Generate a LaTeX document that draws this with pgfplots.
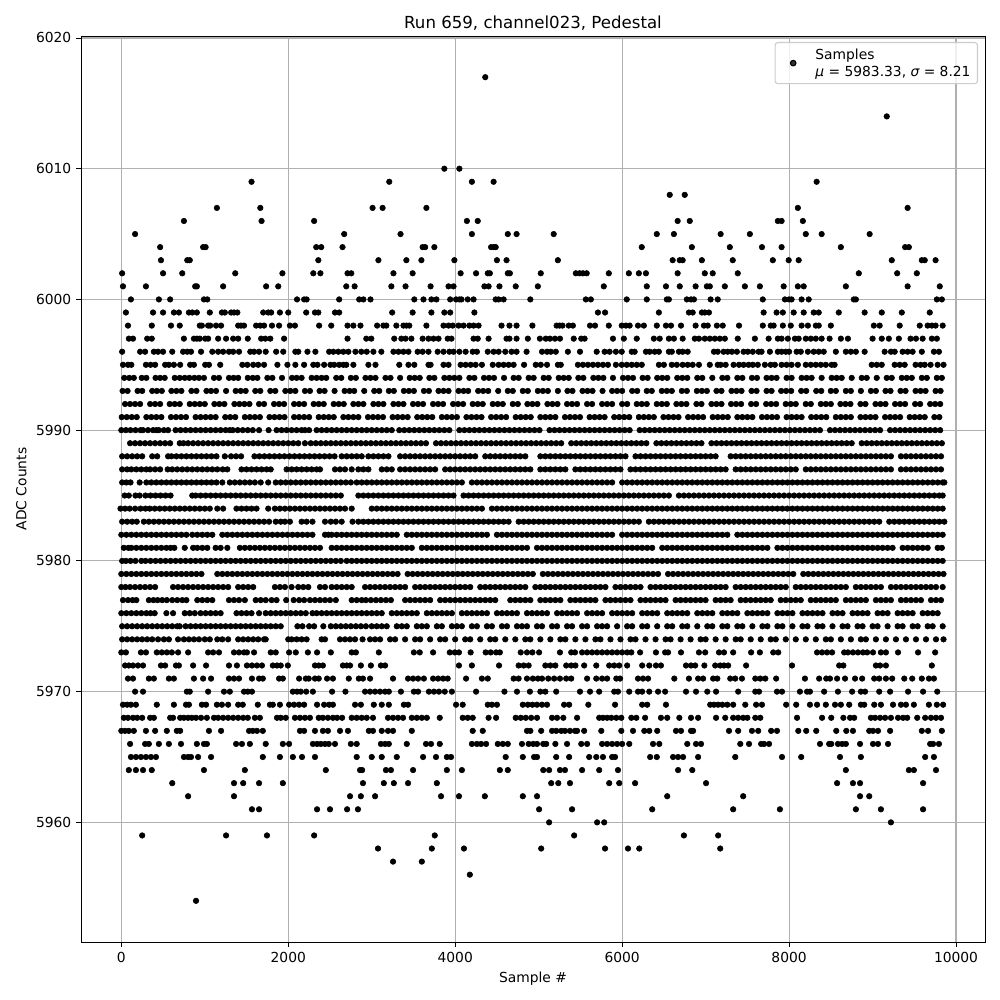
\documentclass[border=0pt]{standalone}
\usepackage{fontspec}
\setmainfont{DejaVu Sans}
\usepackage{pgfplots}
\pgfplotsset{compat=1.18}
% one plot per ADC level: level, then the sample numbers at that level
\pgfplotsset{samp/.style={only marks,mark=*,mark size=2bp,mark options={fill=black,draw=none},forget plot}}
\newcommand\lv[2]{\gdef\lvpts{}\foreach \x in {#2}{\xdef\lvpts{\lvpts(\x,#1)}}\edef\lvcmd{\noexpand\addplot[samp] coordinates {\lvpts};}\lvcmd}
\begin{document}
\begin{tikzpicture}
\useasboundingbox (0,0) rectangle (720bp,720bp);
\begin{axis}[
  scale only axis,
  width=650.88bp, height=652.32bp,
  at={(58.32bp,41.76bp)}, anchor=south west,
  xmin=-483, xmax=10347, ymin=5950.85, ymax=6020.15,
  xtick={0,2000,...,10000},
  ytick={5960,5970,...,6020},
  scaled ticks=false,
  tick align=outside,
  major tick length=3.5bp,
  tick style={black,line width=0.6bp},
  axis line style={line width=0.6bp},
  grid=major,
  grid style={color=black!31,line width=0.8bp},
  xticklabel pos=bottom, yticklabel pos=left,
  xtick pos=bottom, ytick pos=left,
  /pgf/number format/.cd, 1000 sep={}, assume math mode=true,
  /pgfplots/.cd,
  tick label style={font=\fontsize{10}{12}\selectfont},
  title={Run 659, channel023, Pedestal},
  title style={font=\fontsize{12}{14}\selectfont,yshift=-5.3bp},
  xlabel={Sample \#},
  ylabel={ADC Counts},
  label style={font=\fontsize{10}{12}\selectfont},
  legend style={at={(0.9923,0.9934)},anchor=north east,fill=white,fill opacity=0.8,draw opacity=1,text opacity=1,draw=black!20,rounded corners=2pt,line width=0.8bp,font=\fontsize{10}{12}\selectfont},
  legend cell align=left,
  legend image code/.code={\path[draw=none] (0bp,-2bp) rectangle (22.5bp,2bp);\draw[#1] plot coordinates {(10bp,0bp)};},
]
\lv{6017}{4360}
\lv{6014}{9170}
\lv{6010}{3870,4050}
\lv{6009}{1560,3210,4200,4460,8330}
\lv{6008}{6570,6750}
\lv{6007}{1145,1665,3010,3130,3655,8105,9420}
\lv{6006}{750,1680,2310,4140,4270,6665,6810,7865,7910,8165}
\lv{6005}{165,2670,3345,4200,4630,4735,5180,6415,6620,7180,7530,8200,8390,8965}
\lv{6004}{465,980,1010,2335,2395,2650,3610,3640,3750,4430,4460,4485,6235,6835,7290,7675,7910,8620,9390,9435}
\lv{6003}{475,790,820,2360,3080,3415,3595,3990,4500,4615,5230,6605,6690,6725,6955,7325,7805,7995,8115,9230,9590,9625,9755}
\lv{6002}{10,500,730,1365,1930,2300,2385,2710,2755,3260,3490,4065,4250,4390,4415,4630,4655,5025,5445,5490,5530,5575,5840,6080,6200,6285,6665,6990,7085,7385,8835,9295,9530}
\lv{6001}{20,295,885,905,1220,1735,1880,2695,2795,3235,3405,3705,3920,3980,4350,4400,4530,4725,4990,5780,6295,6525,6690,6880,7015,7050,7230,7470,7650,7935,8105,8175,8680,9420,9805}
\lv{6000}{115,450,585,990,1030,2105,2190,2220,2610,2850,2900,2985,3510,3620,3715,3775,3940,4010,4050,4075,4150,4220,4485,4520,4580,4900,5565,5625,6055,6295,6535,6560,6775,6825,6860,7060,7145,7685,7950,8000,8030,8150,8235,8775,8800,9770,9830}
\lv{5999}{55,380,500,630,690,810,850,905,1060,1205,1240,1315,1350,1390,1700,1760,1795,1900,2000,2215,2320,2360,2560,2610,3245,3490,3715,3870,3940,4230,5710,5795,6440,6800,6845,6955,6990,7040,7695,7850,7925,8055,8175,8295,8355,8595,8905,9110,9350,9685}
\lv{5998}{80,365,595,700,940,965,1040,1065,1135,1195,1400,1435,1470,1615,1665,1710,1805,1890,2020,2080,2370,2515,2710,2780,2865,3065,3140,3175,3295,3380,3415,3450,3655,3860,3920,3970,4040,4100,4170,4220,4280,4555,4650,4735,4925,5215,5250,5285,5360,5410,5615,5675,5840,5995,6045,6090,6190,6260,6415,6525,6585,6705,6880,6980,7025,7135,7205,7400,7685,7780,7815,7925,8020,8150,8225,8320,8355,8500,9015,9085,9325,9565,9660,9710,9755,9840}
\lv{5997}{90,140,310,365,750,870,905,940,1005,1040,1160,1255,1340,1400,1515,1675,1725,1785,1950,2710,2935,2995,3270,3355,3405,3475,3610,3680,3740,3800,3910,3955,4220,4270,4400,4615,4650,4735,4870,5015,5085,5135,5195,5255,5420,5510,5550,5890,6020,6175,6380,6450,6560,6620,6725,6870,6920,6990,7050,7110,7170,7230,7385,7590,7755,7865,7910,7985,8070,8115,8200,8260,8320,8390,8485,8620,8705,9000,9110,9195,9315,9455,9520,9600,9710,9770}
\lv{5996}{10,225,285,390,440,500,610,740,790,835,955,1090,1160,1220,1290,1340,1410,1545,1590,1650,1730,1855,1940,2085,2120,2230,2325,2490,2540,2600,2660,2720,2805,2875,2940,3020,3115,3260,3320,3380,3440,3550,3610,3680,3790,3860,3930,3980,4050,4125,4210,4260,4390,4460,4520,4600,4675,4735,4855,5040,5100,5145,5205,5350,5495,5695,5790,5850,5925,5995,6115,6150,6285,6330,6390,6440,6560,6595,6680,6725,6785,7100,7145,7215,7265,7315,7375,7455,7505,7565,7635,7670,7770,7865,7910,7960,8000,8090,8140,8225,8295,8355,8415,8560,8680,8740,8800,8905,9145,9220,9265,9360,9420,9480,9590,9735,9795}
\lv{5995}{20,80,120,295,350,405,525,570,630,705,825,870,1005,1050,1185,1450,1510,1580,1640,1710,1870,1990,2085,2190,2300,2350,2430,2505,2550,2610,2660,2695,2780,2960,3045,3330,3440,3510,3680,3705,3860,3920,4065,4125,4185,4245,4320,4450,4520,4580,4640,4700,4825,4965,5025,5100,5230,5265,5470,5530,5590,5650,5710,5770,5830,5925,5995,6055,6115,6175,6235,6440,6500,6595,6655,6725,6785,6845,6920,7050,7145,7180,7240,7335,7400,7455,7515,7565,7625,7710,7780,7830,7910,7970,8030,8105,8200,8260,8320,8380,8440,8510,8545,8990,9050,9110,9265,9325,9385,9515,9575,9625,9695,9780,9850}
\lv{5994}{35,95,150,245,300,410,465,520,640,700,760,815,875,930,990,1110,1170,1290,1345,1400,1515,1575,1630,1750,1810,1925,2045,2100,2160,2280,2340,2400,2455,2575,2635,2750,2810,2925,2985,3045,3165,3225,3340,3455,3515,3575,3690,3750,3870,3930,3990,4050,4170,4230,4345,4405,4465,4585,4700,4760,4880,4940,5060,5120,5240,5300,5360,5475,5535,5655,5715,5775,5890,6010,6070,6130,6245,6305,6420,6480,6540,6660,6720,6780,6900,6960,7080,7200,7260,7380,7440,7555,7615,7730,7790,7850,7970,8030,8150,8210,8270,8390,8510,8570,8630,8750,8870,8930,9050,9170,9230,9350,9410,9470,9590,9650,9770,9830}
\lv{5993}{15,75,195,250,370,425,485,600,660,720,840,900,1020,1075,1135,1255,1370,1430,1490,1605,1665,1785,1845,1965,2025,2085,2200,2260,2375,2435,2555,2675,2735,2790,2910,3030,3090,3205,3265,3385,3445,3505,3625,3685,3800,3860,3920,4040,4100,4155,4275,4335,4395,4515,4630,4690,4810,4870,4990,5050,5110,5230,5345,5405,5525,5585,5645,5765,5880,5940,6000,6120,6180,6295,6355,6475,6535,6595,6715,6775,6895,6955,7015,7130,7190,7310,7370,7430,7550,7610,7730,7790,7905,7965,8025,8145,8205,8325,8385,8500,8560,8680,8740,8860,8980,9040,9155,9215,9335,9395,9515,9575,9635,9755,9815}
\lv{5992}{45,105,165,225,345,405,465,580,640,700,820,880,940,1000,1115,1175,1235,1355,1415,1475,1535,1650,1710,1830,1890,1950,2070,2130,2190,2305,2365,2425,2545,2605,2665,2780,2840,2900,3020,3080,3140,3260,3320,3380,3495,3555,3615,3735,3795,3855,3975,4035,4095,4210,4270,4330,4450,4510,4570,4690,4750,4865,4925,4985,5105,5165,5225,5340,5400,5460,5580,5640,5760,5820,5880,6000,6060,6175,6235,6295,6415,6475,6535,6650,6710,6770,6890,6950,7070,7130,7190,7305,7365,7425,7545,7605,7725,7785,7845,7960,8020,8080,8200,8260,8380,8440,8500,8615,8675,8735,8855,8915,9035,9095,9155,9270,9330,9390,9510,9570,9690,9750,9810}
\lv{5991}{5,65,125,185,300,360,420,480,595,655,715,775,890,950,1010,1070,1130,1245,1305,1365,1480,1540,1600,1660,1775,1835,1895,1955,2070,2130,2190,2250,2365,2425,2485,2545,2660,2720,2780,2840,2955,3015,3075,3135,3250,3310,3370,3430,3545,3605,3665,3725,3840,3900,3960,4020,4135,4195,4255,4315,4430,4490,4550,4610,4725,4785,4845,4905,5020,5080,5140,5200,5315,5375,5435,5495,5610,5670,5730,5790,5905,5965,6025,6085,6200,6260,6320,6380,6495,6555,6615,6675,6790,6850,6910,6970,7085,7145,7205,7265,7380,7440,7500,7560,7675,7735,7795,7855,7970,8030,8090,8150,8265,8325,8385,8445,8560,8620,8680,8740,8855,8915,8975,9035,9150,9210,9270,9330,9445,9505,9565,9625,9740,9800}
\lv{5990}{0,55,110,170,230,260,320,380,420,450,510,560,650,710,770,830,890,950,1010,1070,1130,1190,1250,1300,1335,1395,1455,1515,1575,1650,1765,1860,1920,1980,2040,2100,2160,2200,2250,2340,2400,2460,2520,2580,2640,2700,2760,2820,2880,2940,3000,3060,3120,3180,3240,3330,3390,3450,3510,3570,3630,3690,3750,3810,3870,3930,4050,4110,4170,4230,4290,4350,4410,4470,4530,4590,4650,4710,4770,4830,4890,4950,5010,5130,5190,5250,5310,5370,5430,5490,5550,5610,5670,5730,5790,5850,5910,5970,6030,6090,6210,6270,6330,6390,6450,6510,6570,6630,6690,6750,6810,6870,6930,6990,7050,7110,7170,7230,7290,7350,7410,7470,7530,7590,7650,7710,7770,7830,7890,7950,8010,8070,8130,8190,8250,8310,8370,8490,8550,8610,8670,8730,8790,8850,8910,8970,9030,9090,9210,9270,9330,9390,9450,9510,9570,9630,9690,9750,9810}
\lv{5989}{105,165,225,285,345,405,465,525,585,700,745,800,860,920,980,1040,1100,1160,1220,1280,1340,1400,1460,1520,1580,1640,1700,1760,1820,1880,1940,2000,2060,2120,2200,2270,2330,2390,2450,2510,2570,2630,2690,2750,2810,2870,2930,2990,3050,3110,3170,3230,3290,3350,3410,3470,3530,3590,3650,3770,3830,3890,3950,4010,4070,4130,4190,4250,4310,4370,4430,4490,4550,4610,4670,4730,4790,4850,4910,4970,5030,5090,5150,5210,5270,5390,5450,5510,5570,5630,5690,5750,5810,5870,5930,5990,6050,6110,6170,6230,6290,6410,6470,6530,6590,6650,6710,6770,6830,6890,6950,7070,7130,7190,7250,7310,7370,7430,7490,7550,7610,7670,7730,7790,7850,7910,7970,8030,8090,8150,8210,8270,8330,8390,8450,8510,8570,8630,8690,8750,8870,8930,8990,9050,9110,9170,9230,9290,9350,9410,9470,9530,9590,9650,9710,9770,9830}
\lv{5988}{10,70,130,190,250,370,430,560,600,660,720,780,840,900,960,1020,1080,1140,1240,1315,1375,1435,1595,1655,1715,1775,1835,1895,1955,2015,2075,2135,2195,2255,2315,2375,2435,2495,2555,2640,2700,2760,2820,2880,2960,3020,3080,3140,3200,3340,3400,3460,3520,3580,3640,3700,3760,3820,3880,3940,4000,4060,4120,4180,4240,4360,4420,4480,4540,4600,4660,4720,4780,4840,5020,5080,5140,5200,5260,5320,5380,5440,5500,5560,5620,5680,5740,5800,5860,5920,5980,6040,6160,6220,6280,6340,6400,6460,6520,6580,6640,6700,6760,6820,6880,6940,7000,7060,7120,7300,7360,7420,7480,7540,7600,7660,7720,7780,7840,7900,7960,8020,8080,8140,8200,8260,8320,8380,8440,8500,8560,8620,8680,8740,8800,8860,8920,8980,9040,9100,9160,9220,9340,9400,9460,9520,9580,9640,9700,9760,9820}
\lv{5987}{10,70,120,180,240,300,345,405,465,555,610,670,730,790,850,910,970,1030,1090,1150,1215,1270,1440,1500,1560,1620,1680,1740,1790,1980,2040,2100,2160,2220,2280,2340,2380,2560,2620,2680,2760,2840,2900,2960,3120,3180,3240,3340,3400,3460,3520,3580,3640,3700,3760,3880,3940,4000,4060,4120,4180,4240,4300,4360,4420,4480,4540,4600,4660,4720,4780,4840,4900,5020,5080,5140,5200,5260,5320,5440,5500,5560,5620,5680,5740,5800,5860,5920,5980,6100,6160,6220,6280,6340,6400,6460,6520,6580,6640,6700,6760,6820,6880,6940,7000,7060,7120,7180,7240,7360,7420,7480,7540,7600,7660,7720,7780,7840,7900,7960,8020,8080,8200,8260,8320,8380,8440,8500,8560,8620,8680,8740,8800,8860,8920,8980,9040,9100,9160,9220,9340,9400,9460,9520,9580,9640,9700,9760,9820}
\lv{5986}{10,60,110,220,300,360,420,480,540,600,660,720,780,840,900,960,1020,1080,1140,1210,1300,1360,1420,1480,1540,1600,1670,1760,1850,1910,1970,2030,2090,2150,2210,2270,2330,2390,2450,2510,2570,2630,2690,2750,2820,2880,2940,3000,3060,3120,3180,3240,3300,3360,3420,3480,3540,3600,3660,3720,3780,3840,3900,3960,4020,4080,4200,4260,4320,4380,4440,4500,4560,4620,4680,4740,4800,4860,4920,4980,5040,5100,5160,5220,5280,5340,5400,5460,5520,5580,5640,5700,5760,5820,5880,6000,6060,6120,6180,6240,6300,6360,6420,6480,6540,6600,6660,6720,6780,6840,6900,6960,7020,7080,7140,7200,7260,7320,7380,7440,7500,7560,7620,7680,7740,7800,7860,7920,7980,8040,8100,8160,8220,8280,8340,8400,8460,8520,8580,8640,8700,8760,8820,8880,8940,9000,9060,9120,9180,9240,9300,9360,9420,9480,9540,9600,9660,9720,9780,9840,9860}
\lv{5985}{40,90,170,220,290,350,410,470,530,590,850,890,950,1010,1070,1130,1190,1250,1310,1370,1430,1490,1550,1610,1670,1730,1790,1850,1910,1970,2030,2090,2150,2210,2270,2330,2390,2450,2510,2570,2630,2840,2900,2960,3020,3080,3140,3200,3260,3320,3380,3440,3500,3560,3620,3680,3740,3800,3860,3920,3980,4100,4160,4220,4280,4340,4400,4460,4520,4580,4640,4700,4760,4820,4880,4940,5000,5060,5120,5180,5240,5300,5360,5420,5480,5540,5600,5660,5720,5780,5840,5900,5960,6020,6080,6140,6200,6260,6320,6380,6440,6500,6560,6680,6740,6800,6860,6920,6980,7040,7100,7160,7220,7280,7340,7400,7460,7520,7580,7640,7700,7760,7820,7880,7940,8000,8060,8120,8180,8240,8300,8360,8420,8480,8540,8600,8660,8720,8780,8840,8900,8960,9020,9080,9140,9200,9260,9320,9380,9440,9500,9560,9620,9680,9740,9800,9840}
\lv{5984}{-10,45,100,165,230,290,340,400,460,520,580,640,700,760,820,880,940,1000,1060,1150,1220,1380,1440,1500,1560,1620,1760,1840,1900,1960,2020,2080,2140,2200,2260,2320,2380,2440,2500,2560,2620,2680,2760,3000,3060,3120,3180,3240,3300,3360,3420,3480,3540,3600,3660,3720,3780,3840,3900,3960,4020,4080,4140,4200,4260,4320,4440,4500,4560,4620,4680,4740,4800,4860,4920,4980,5040,5100,5160,5220,5280,5340,5400,5460,5520,5580,5640,5700,5760,5820,5880,5940,6000,6060,6120,6180,6240,6300,6360,6420,6480,6540,6600,6660,6720,6780,6840,6900,6960,7020,7080,7140,7200,7260,7320,7380,7440,7500,7560,7620,7680,7740,7800,7860,7920,7980,8040,8100,8160,8220,8280,8340,8400,8460,8520,8580,8640,8700,8760,8820,8880,8940,9000,9060,9120,9180,9240,9300,9360,9420,9480,9540,9600,9660,9720,9780,9840}
\lv{5983}{10,70,130,185,270,330,390,450,510,570,630,690,750,810,870,930,990,1050,1110,1170,1230,1290,1350,1410,1470,1530,1590,1650,1710,1770,1850,1910,1960,2020,2160,2220,2290,2440,2510,2570,2640,2770,2840,2900,2960,3020,3080,3140,3200,3260,3320,3380,3440,3500,3560,3620,3680,3740,3800,3860,3920,3980,4040,4100,4160,4220,4280,4340,4400,4460,4520,4580,4640,4760,4820,4880,4940,5000,5060,5120,5180,5240,5300,5360,5420,5480,5540,5600,5660,5720,5780,5840,5900,5960,6020,6080,6140,6200,6320,6380,6440,6500,6560,6620,6680,6740,6800,6860,6920,6980,7040,7100,7160,7220,7280,7340,7400,7460,7520,7580,7640,7700,7760,7820,7880,7940,8000,8060,8120,8180,8240,8300,8360,8420,8480,8540,8600,8660,8720,8780,8840,8900,8960,9020,9080,9200,9260,9320,9380,9440,9500,9560,9620,9680,9740,9800,9860}
\lv{5982}{0,60,120,180,240,300,360,420,480,540,600,660,720,780,850,910,970,1030,1090,1210,1270,1330,1390,1450,1510,1570,1630,1690,1750,1810,1870,1930,1990,2050,2110,2170,2230,2290,2440,2480,2520,2580,2640,2700,2760,2820,2880,2940,3000,3060,3120,3180,3240,3300,3420,3480,3540,3600,3660,3720,3780,3840,3900,3960,4020,4080,4140,4200,4260,4320,4380,4500,4560,4620,4680,4740,4800,4860,4920,4980,5040,5100,5160,5220,5280,5340,5400,5460,5520,5580,5640,5700,5760,5820,5880,6000,6060,6120,6180,6240,6300,6360,6420,6480,6540,6600,6660,6720,6780,6840,6900,6960,7020,7080,7140,7200,7260,7380,7440,7500,7560,7620,7680,7740,7800,7860,7920,7980,8040,8100,8160,8220,8280,8340,8400,8460,8520,8580,8640,8700,8760,8820,8880,8940,9000,9060,9120,9180,9240,9300,9360,9420,9480,9540,9600,9660,9720,9780,9840}
\lv{5981}{30,85,120,180,240,300,360,420,480,540,590,635,760,860,910,970,1030,1130,1190,1270,1420,1480,1540,1600,1660,1720,1780,1840,1900,1960,2020,2080,2140,2200,2260,2320,2380,2520,2580,2640,2700,2760,2820,2880,2940,3000,3060,3120,3180,3240,3300,3360,3420,3480,3600,3660,3720,3780,3840,3900,3960,4020,4080,4140,4200,4260,4320,4380,4440,4500,4560,4620,4680,4740,4800,4860,4980,5040,5100,5160,5220,5280,5340,5400,5460,5520,5580,5640,5700,5760,5820,5880,5940,6000,6060,6120,6180,6240,6300,6360,6480,6540,6600,6660,6720,6780,6840,6900,6960,7020,7080,7140,7200,7260,7320,7380,7440,7500,7560,7620,7680,7740,7860,7920,7980,8040,8100,8160,8220,8280,8340,8400,8460,8520,8580,8640,8700,8760,8820,8880,8940,9000,9060,9120,9180,9240,9360,9420,9480,9540,9600,9660,9780,9830}
\lv{5980}{10,55,110,170,240,290,350,410,470,530,590,650,710,770,830,890,950,1010,1070,1130,1190,1250,1310,1370,1430,1490,1550,1610,1670,1730,1790,1850,1910,1970,2030,2090,2150,2210,2270,2330,2390,2450,2510,2570,2630,2700,2760,2820,2880,2940,3000,3060,3120,3180,3240,3300,3360,3420,3480,3540,3600,3660,3720,3780,3840,3900,3960,4020,4080,4140,4200,4260,4320,4380,4440,4500,4560,4620,4680,4740,4800,4860,4920,4980,5040,5100,5160,5220,5280,5340,5400,5460,5520,5580,5640,5700,5760,5820,5880,5940,6000,6060,6120,6180,6240,6300,6360,6420,6480,6540,6600,6660,6720,6780,6840,6900,6960,7020,7080,7140,7200,7260,7320,7380,7440,7500,7560,7620,7680,7740,7800,7860,7920,7980,8040,8100,8160,8220,8280,8340,8400,8460,8520,8580,8640,8700,8760,8820,8880,8940,9000,9060,9120,9180,9240,9300,9360,9420,9480,9540,9600,9660,9720,9780,9840}
\lv{5979}{0,60,120,180,240,300,360,420,480,540,600,660,720,780,840,900,960,1150,1210,1270,1330,1390,1450,1510,1570,1630,1690,1750,1810,1870,1930,1990,2050,2110,2170,2230,2290,2350,2410,2470,2530,2590,2650,2710,2770,2830,2890,2950,3010,3070,3130,3190,3250,3310,3430,3490,3550,3610,3670,3730,3790,3850,3910,3970,4030,4090,4150,4210,4270,4330,4390,4450,4510,4570,4630,4690,4750,4810,4870,4930,5050,5110,5170,5230,5290,5350,5410,5470,5530,5590,5650,5710,5770,5830,5890,5950,6010,6070,6130,6190,6250,6310,6370,6430,6550,6610,6670,6730,6790,6850,6910,6970,7030,7090,7150,7210,7270,7330,7390,7450,7510,7570,7630,7690,7750,7810,7870,7930,7990,8050,8170,8230,8290,8350,8410,8470,8530,8590,8650,8710,8770,8830,8890,8950,9010,9070,9130,9190,9250,9310,9370,9430,9490,9550,9610,9670,9730,9790,9850}
\lv{5978}{0,50,105,165,225,285,345,405,620,680,740,800,860,920,980,1040,1100,1160,1220,1280,1400,1460,1520,1580,1840,1900,1960,2040,2120,2180,2240,2380,2440,2520,2580,2640,2700,2760,2920,2980,3040,3100,3160,3220,3280,3340,3400,3520,3580,3640,3700,3760,3820,3880,3940,4000,4060,4120,4180,4300,4360,4420,4480,4540,4600,4660,4720,4780,4840,4960,5020,5080,5140,5200,5260,5320,5380,5440,5500,5560,5620,5680,5740,5800,5920,5980,6040,6100,6160,6220,6340,6400,6460,6520,6580,6640,6700,6760,6820,6880,6940,7000,7060,7120,7180,7240,7360,7420,7480,7540,7600,7660,7720,7780,7840,7900,7960,8080,8140,8200,8260,8320,8380,8440,8500,8560,8620,8680,8800,8860,8920,8980,9040,9100,9220,9280,9340,9400,9460,9520,9580,9640,9700,9760,9840}
\lv{5977}{20,80,135,180,330,385,435,490,545,610,670,730,780,910,970,1030,1090,1290,1350,1410,1480,1610,1670,1730,1800,1860,1975,2065,2130,2190,2260,2320,2380,2440,2500,2570,2760,2820,2880,2930,2990,3050,3110,3170,3230,3400,3460,3520,3580,3640,3700,3820,3880,3940,4000,4060,4120,4180,4240,4300,4360,4420,4480,4660,4720,4780,4840,4900,5020,5080,5140,5200,5260,5380,5440,5500,5560,5620,5680,5800,5860,5920,5980,6040,6100,6220,6280,6340,6400,6460,6520,6640,6700,6760,6820,6880,6940,7000,7120,7180,7240,7300,7420,7480,7540,7600,7660,7720,7780,7900,7960,8020,8080,8140,8260,8320,8380,8440,8500,8560,8680,8740,8800,8860,8920,9040,9100,9160,9220,9340,9400,9460,9520,9580,9700,9760,9820}
\lv{5976}{0,60,120,180,240,300,350,400,540,620,760,820,880,950,1010,1070,1130,1190,1380,1440,1500,1560,1650,1730,1790,1850,1910,1970,2030,2090,2150,2210,2290,2340,2400,2460,2520,2580,2640,2700,2760,2820,2880,2940,3000,3060,3120,3240,3300,3360,3420,3480,3540,3660,3720,3780,3840,3900,3960,4080,4140,4200,4260,4320,4380,4500,4560,4620,4680,4740,4860,4920,4980,5040,5100,5220,5280,5340,5400,5460,5580,5640,5700,5760,5880,5940,6000,6060,6120,6240,6300,6360,6420,6540,6600,6660,6720,6780,6900,6960,7020,7080,7200,7260,7320,7380,7500,7560,7620,7680,7740,7860,7920,7980,8040,8160,8220,8280,8340,8400,8520,8580,8640,8760,8820,8880,8940,9060,9120,9180,9300,9360,9420,9480,9600,9660,9720,9780}
\lv{5975}{10,70,130,190,250,310,370,430,490,550,610,670,700,770,830,890,950,1010,1070,1130,1190,1250,1310,1370,1430,1490,1550,1610,1670,1730,1790,1850,1910,2110,2170,2250,2310,2420,2510,2570,2630,2690,2750,2810,2870,2930,3000,3060,3120,3180,3300,3360,3420,3540,3600,3660,3780,3840,3960,4020,4080,4200,4260,4380,4440,4560,4620,4740,4800,4860,4980,5040,5160,5220,5340,5400,5520,5580,5700,5760,5820,5940,6060,6120,6240,6300,6420,6540,6600,6720,6780,6900,7020,7080,7200,7260,7380,7440,7560,7680,7740,7860,7920,8040,8160,8220,8340,8400,8520,8640,8700,8820,8880,9000,9060,9180,9300,9360,9480,9540,9660,9720,9840}
\lv{5974}{10,70,130,190,250,310,370,440,510,570,680,750,810,870,930,1000,1060,1150,1210,1280,1400,1460,1520,1580,1640,1710,1730,2000,2040,2100,2160,2220,2400,2440,2620,2680,2740,2800,2890,2980,3040,3100,3220,3280,3400,3520,3580,3700,3820,3880,4000,4120,4180,4300,4420,4480,4600,4720,4840,4900,5020,5140,5260,5320,5440,5560,5680,5740,5860,5980,6100,6160,6280,6400,6520,6580,6700,6820,6940,7000,7120,7240,7360,7420,7540,7660,7780,7840,7960,8080,8200,8320,8440,8500,8620,8740,8860,8920,9040,9160,9280,9400,9520,9640,9760,9850}
\lv{5973}{0,55,235,295,425,485,545,605,680,800,1040,1100,1170,1350,1410,1470,1505,1590,1790,1850,2010,2090,2235,2345,2510,2760,2810,3085,3505,3575,3735,3935,3995,4045,4185,4365,4425,4490,4535,4785,4860,4925,5005,5255,5390,5435,5520,5580,5640,5700,5760,5820,5880,5940,6000,6060,6110,6215,6405,6515,6550,6705,6920,6995,7160,7220,7330,7545,7650,7810,7870,8335,8395,8455,8515,8660,8705,8765,8825,8885,8935,9005,9100,9160,9305,9545,9750}
\lv{5972}{45,90,140,200,260,475,525,655,690,860,1015,1290,1385,1505,1565,1625,1685,1815,1865,1910,1995,2320,2365,2415,2655,2700,2740,2870,2990,3110,3160,4045,4200,4525,4760,4820,4880,5080,5140,5200,5330,5390,5440,5545,5690,5845,5905,5965,6060,6240,6325,6405,6465,6765,6825,6875,6985,7115,7175,7220,7270,7485,8035,8600,8650,9040,9090,9160,9710}
\lv{5971}{80,140,330,390,570,630,870,980,1075,1290,1350,1410,1565,1650,1695,1890,1935,2130,2210,2245,2320,2365,2465,2535,2725,2845,2895,2980,3255,3435,3495,3555,3625,3735,3795,3855,3910,4130,4320,4390,4700,4760,4860,4930,4990,5040,5115,5185,5255,5330,5390,5580,5690,5760,5820,5930,5975,6190,6250,6310,6625,6800,6910,6970,7090,7140,7295,7355,7435,7595,7655,7715,7845,8190,8360,8445,8490,8575,8670,8790,8875,9020,9080,9160,9235,9380,9475,9590,9675,9735}
\lv{5970}{165,260,785,820,1040,1230,1300,1470,1515,1565,2055,2105,2150,2215,2295,2525,2685,2920,2980,3040,3100,3160,3205,3350,3505,3555,3685,3745,3805,3875,3960,4250,4590,4740,4895,5020,5080,5210,5495,5615,5725,5905,5950,6085,6190,6240,6325,6430,6515,6765,6885,7020,7125,7390,7595,7640,7855,7915,8130,8215,8250,8420,8585,8755,8860,8910,9080,9210,9425,9605,9775}
\lv{5969}{20,70,115,175,425,630,775,810,965,1015,1145,1205,1280,1400,1455,1635,1780,1815,1900,2010,2070,2130,2190,2345,2430,2490,2535,2800,2870,3025,3120,3205,3385,3435,4010,4090,4390,4440,4500,4810,4870,4925,4980,5040,5100,5305,5365,5595,5915,6240,6300,6525,7055,7100,7150,7200,7260,7330,7475,7605,7675,7965,8085,8250,8335,8440,8550,8620,8720,8860,8900,9020,9100,9245,9340,9400,9495,9675,9770,9845}
\lv{5968}{30,80,140,190,250,345,390,585,620,705,750,800,845,895,955,1025,1110,1160,1220,1280,1340,1400,1460,1515,1600,1660,1865,1910,1970,2080,2140,2200,2260,2365,2415,2475,2535,2585,2645,2760,2820,2880,2940,3015,3195,3255,3315,3375,3480,3540,3600,3660,3815,4090,4150,4210,4400,4490,4725,4785,4845,4910,4980,5160,5220,5295,5460,5725,5770,5820,5870,5930,5990,6110,6170,6275,6465,6540,6685,6825,6910,7125,7235,7330,7390,7450,7500,7595,7655,8095,8395,8505,8650,8730,8780,8980,9030,9090,9150,9220,9305,9365,9415,9535,9630,9700,9760,9820}
\lv{5967}{0,45,90,150,295,405,545,665,705,1050,1195,1530,1575,1625,1695,2140,2190,2320,2415,2475,2620,2715,2965,3015,3120,3195,3255,3480,4210,4330,4860,4900,5030,5160,5210,5270,5315,5375,5435,5460,5545,5750,5990,6130,6265,6325,6420,6645,6705,6825,6850,7280,7390,7555,7630,7785,7855,8110,8205,8325,8565,8685,8765,8960,9005,9065,9210,9590,9665,9830}
\lv{5966}{105,285,330,450,570,715,905,990,1025,1375,1445,1540,1730,1935,2010,2295,2345,2390,2440,2485,2560,2750,2820,3110,3160,3205,3420,3650,3710,3815,4200,4260,4310,4370,4510,4570,4630,4800,4880,4935,4980,5055,5090,5200,5340,5510,5580,5760,5820,5880,5940,6000,6085,6370,6445,6780,6885,6945,7415,7520,7665,7700,7760,8370,8480,8505,8585,8635,8680,8850,9005,9065,9185,9690,9725,9795}
\lv{5965}{115,175,235,295,355,415,750,800,835,920,1075,1695,1900,2055,2165,2320,2820,3000,3120,3300,3615,3770,3900,3950,4605,4810,4945,4980,5210,5365,5605,5690,5770,5880,5915,6335,6415,6610,6670,6730,6910,7355,7915,8145,8610,8860,9630,9735}
\lv{5964}{90,175,260,365,990,1480,2450,2860,2885,3170,3230,3495,3900,4080,4535,4630,5055,5125,5255,5315,5520,5725,5950,6670,6840,8680,9435,9495,9760}
\lv{5963}{610,1350,1460,1650,1935,2895,3145,3265,3435,3780,5150,5235,5375,5845,5965,6155,7005,8575,8765,8850,9605}
\lv{5962}{800,1350,2740,2870,3040,3830,4045,4355,4810,4980,6540,7450,8850,8960}
\lv{5961}{1565,1650,2345,2500,2705,2835,5005,5400,6360,7330,7890,8800,9100,9605}
\lv{5960}{5125,5700,5785,9220}
\lv{5959}{250,1255,1745,2310,3755,5425,6740,7150}
\lv{5958}{3075,3720,4105,5030,5795,6070,6205,7175}
\lv{5957}{3255,3600}
\lv{5956}{4175}
\lv{5954}{895}
\addlegendimage{only marks,mark=*,mark size=2bp,mark options={fill=black,draw=none}}
\addlegendentry{\begin{tabular}{@{\hspace{1.5bp}}l@{}}Samples\\{\itshape μ} = 5983.33, {\itshape σ} = 8.21\rule[-15bp]{0pt}{0pt}\end{tabular}}
\end{axis}
\end{tikzpicture}
\end{document}
